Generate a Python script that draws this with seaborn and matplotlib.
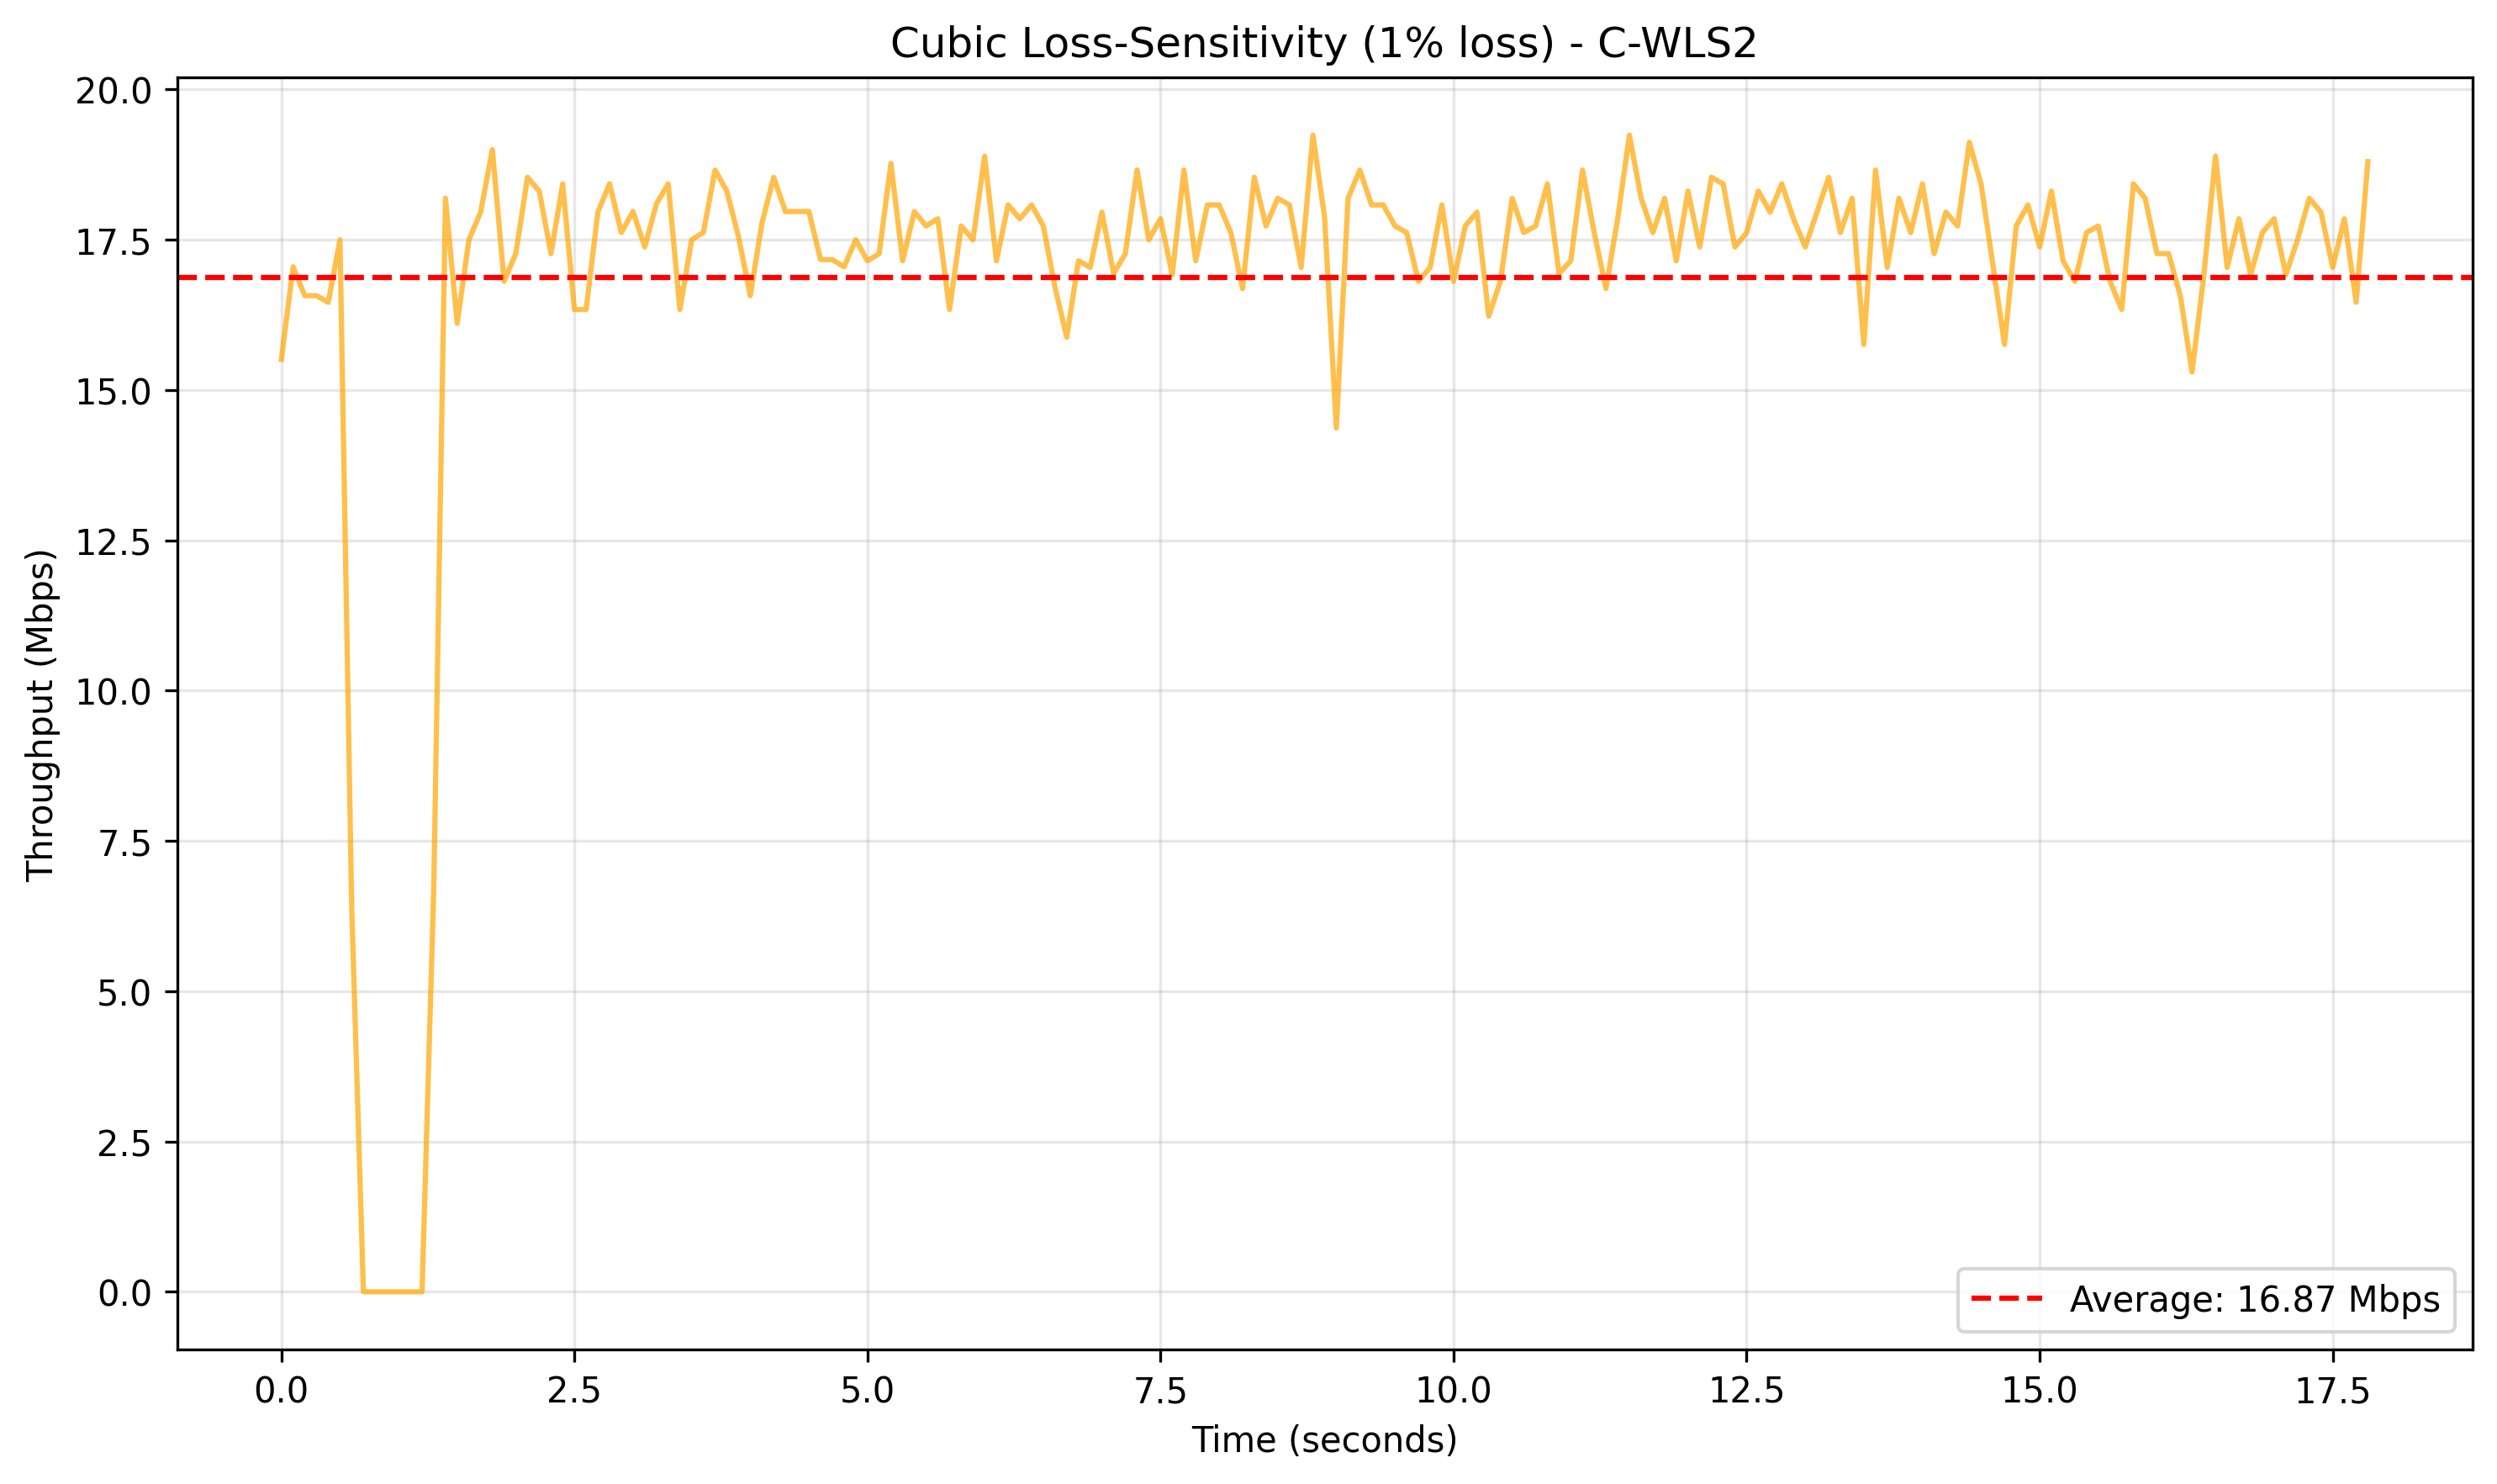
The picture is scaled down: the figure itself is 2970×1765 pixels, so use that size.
import numpy as np
import matplotlib
matplotlib.use('Agg')
import matplotlib.pyplot as plt
import seaborn as sns

# throughput samples every 0.1 s
throughput = [
    15.51, 17.05, 16.57, 16.57, 16.46, 17.50, 6.40, 0, 0, 0,
    0, 0, 0, 6.70, 18.19, 16.11, 17.50, 17.96, 19.00, 16.81,
    17.27, 18.54, 18.31, 17.27, 18.43, 16.34, 16.34, 17.96, 18.43, 17.62,
    17.97, 17.38, 18.10, 18.43, 16.34, 17.50, 17.62, 18.66, 18.31, 17.55,
    16.57, 17.78, 18.54, 17.97, 17.97, 17.97, 17.17, 17.17, 17.05, 17.50,
    17.15, 17.27, 18.77, 17.15, 17.97, 17.73, 17.85, 16.34, 17.73, 17.50,
    18.89, 17.15, 18.08, 17.85, 18.08, 17.73, 16.71, 15.88, 17.15, 17.04,
    17.96, 16.94, 17.27, 18.66, 17.50, 17.85, 16.92, 18.66, 17.15, 18.08,
    18.08, 17.62, 16.69, 18.54, 17.73, 18.19, 18.08, 17.04, 19.24, 17.87,
    14.37, 18.19, 18.66, 18.08, 18.08, 17.73, 17.62, 16.81, 17.04, 18.08,
    16.81, 17.73, 17.96, 16.23, 16.81, 18.19, 17.62, 17.73, 18.43, 16.94,
    17.15, 18.66, 17.62, 16.69, 17.85, 19.24, 18.19, 17.62, 18.19, 17.15,
    18.31, 17.38, 18.54, 18.43, 17.38, 17.62, 18.31, 17.96, 18.43, 17.85,
    17.38, 17.96, 18.54, 17.62, 18.19, 15.76, 18.66, 17.04, 18.19, 17.62,
    18.43, 17.27, 17.96, 17.73, 19.12, 18.43, 17.10, 15.76, 17.73, 18.08,
    17.38, 18.31, 17.15, 16.81, 17.62, 17.73, 16.81, 16.34, 18.43, 18.19,
    17.27, 17.27, 16.57, 15.30, 16.90, 18.89, 17.04, 17.85, 16.92, 17.62,
    17.85, 16.92, 17.50, 18.19, 17.96, 17.04, 17.85, 16.46, 18.80,
]
time_s = [round(i * 0.1, 1) for i in range(len(throughput))]
avg_mbps = 16.87

fig, ax = plt.subplots(figsize=(10, 6))
sns.lineplot(x=time_s, y=throughput, color='orange', alpha=0.7, linewidth=1.5, ax=ax)
ax.axhline(avg_mbps, color='red', linestyle='--', linewidth=1.5,
           label='Average: %.2f Mbps' % avg_mbps)

ax.set_title('Cubic Loss-Sensitivity (1% loss) - C-WLS2', fontsize=12)
ax.set_xlabel('Time (seconds)')
ax.set_ylabel('Throughput (Mbps)')
ax.grid(True, alpha=0.3)
ax.legend(loc='lower right')

plt.tight_layout()
plt.savefig('out.png', dpi=300, bbox_inches='tight')
